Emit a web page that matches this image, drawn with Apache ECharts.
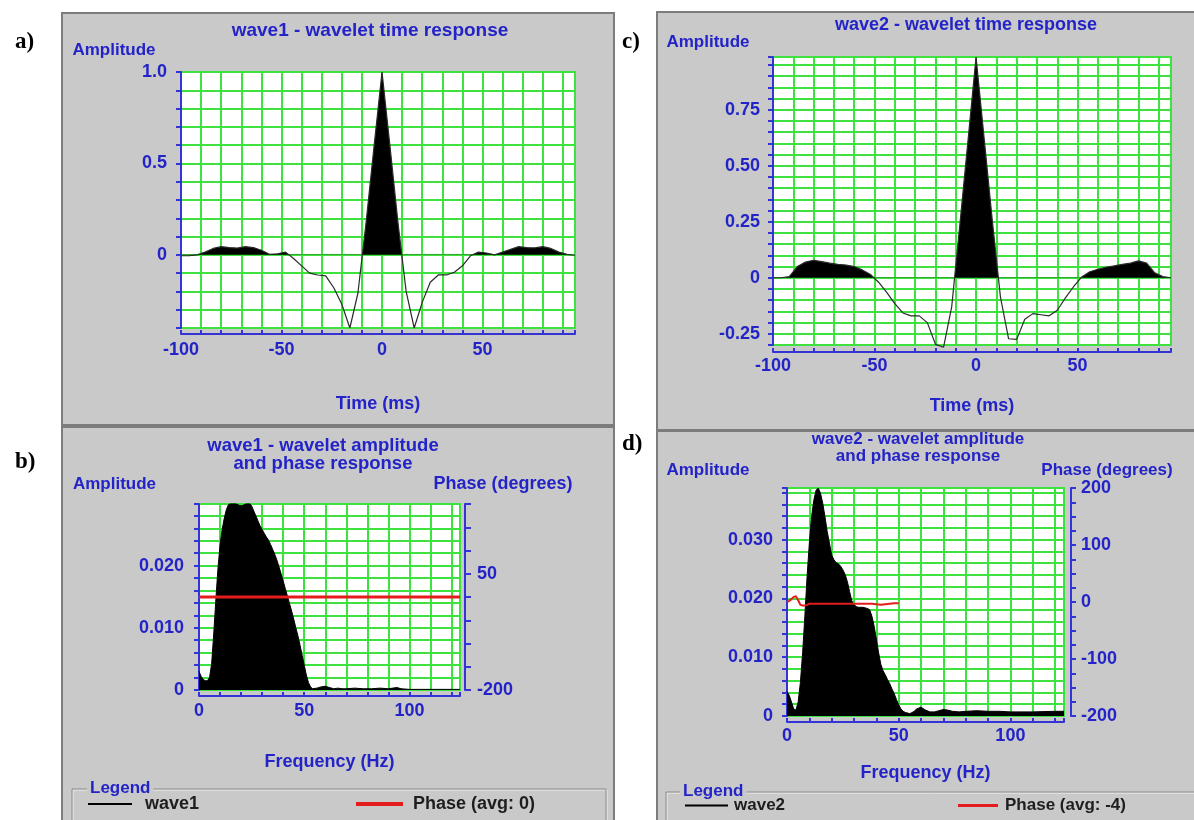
<!DOCTYPE html>
<html>
<head>
<meta charset="utf-8">
<title>wavelet responses</title>
<script src="https://cdn.jsdelivr.net/npm/echarts@6/dist/echarts.min.js"></script>
<style>
html, body { margin: 0; padding: 0; background: #fff; }
#main { width: 1194px; height: 820px; }
</style>
</head>
<body>
<div id="main"></div>
<script>
// time axis (ms), 4 ms sampling
var timeMs = [-100, -96, -92, -88, -84, -80, -76, -72, -68, -64, -60, -56, -52, -48, -44, -40, -36, -32, -28, -24,
    -20, -16, -12, -8, -4, 0, 4, 8, 12, 16, 20, 24, 28, 32, 36, 40, 44, 48, 52, 56,
    60, 64, 68, 72, 76, 80, 84, 88, 92, 96];

// wave1 - time response
var wave1Amp = [-0.005, -0.005, 0.0, 0.015, 0.035, 0.045, 0.04, 0.037, 0.045, 0.04, 0.025, 0.003, 0.006, 0.015, -0.02, -0.06, -0.10, -0.11, -0.115, -0.18,
    -0.27, -0.40, -0.21, 0.17, 0.59, 1.0, 0.59, 0.17, -0.2, -0.40, -0.26, -0.15, -0.11, -0.11, -0.095, -0.06, -0.005, 0.015, 0.01, 0.0,
    0.015, 0.03, 0.045, 0.04, 0.038, 0.045, 0.035, 0.015, 0.003, -0.002];

// wave2 - time response
var wave2Amp = [0, 0, 0.005, 0.05, 0.07, 0.078, 0.072, 0.065, 0.06, 0.057, 0.05, 0.035, 0.015, -0.02, -0.065, -0.115, -0.157, -0.17, -0.17, -0.2,
    -0.297, -0.31, -0.13, 0.235, 0.61, 0.985, 0.62, 0.255, -0.085, -0.272, -0.275, -0.185, -0.16, -0.165, -0.17, -0.145, -0.09, -0.04, 0.003, 0.027,
    0.038, 0.047, 0.053, 0.06, 0.065, 0.075, 0.065, 0.022, 0.005, 0];

// wave1 - amplitude spectrum
var freq1 = [0, 1, 2, 3, 4, 5, 6, 7, 8, 9, 10, 11, 12, 13, 14, 15, 16, 17, 18, 19,
    20, 21, 22, 23, 24, 25, 26, 27, 28, 29, 30, 31, 32, 33, 34, 35, 36, 37, 38, 39,
    40, 41, 42, 43, 44, 45, 46, 47, 48, 49, 50, 51, 52, 53, 54, 56, 58, 60, 62, 64,
    66, 68, 70, 74, 78, 82, 86, 90, 94, 96, 100, 106, 112, 118, 124];
var amp1 = [0.0030, 0.0022, 0.0017, 0.0015, 0.0015, 0.0020, 0.0042, 0.0090, 0.0145, 0.0195, 0.0233, 0.0258, 0.0276, 0.0290, 0.0298, 0.0300, 0.0300, 0.0300, 0.0299, 0.0297,
    0.0296, 0.0297, 0.0299, 0.0300, 0.0300, 0.0296, 0.0288, 0.0280, 0.0272, 0.0264, 0.0258, 0.0252, 0.0246, 0.0241, 0.0234, 0.0226, 0.0218, 0.0209, 0.0198, 0.0187,
    0.0175, 0.0163, 0.0151, 0.0139, 0.0127, 0.0114, 0.0100, 0.0087, 0.0072, 0.0056, 0.0040, 0.0024, 0.0012, 0.0005, 0.0002, 0.0003, 0.0005, 0.0006, 0.0004, 0.0002,
    0.0003, 0.0002, 0.0002, 0.0003, 0.0002, 0.0002, 0.0003, 0.0002, 0.0004, 0.0002, 0.0001, 0.0001, 0.0001, 0.0001, 0.0001];
var phaseFreq1 = [0, 124];
var phase1 = [0, 0];

// wave2 - amplitude spectrum
var freq2 = [0, 1, 2, 3, 4, 5, 6, 7, 8, 9, 10, 11, 12, 13, 14, 15, 16, 17, 18, 19,
    20, 21, 22, 23, 24, 25, 26, 27, 28, 29, 30, 31, 32, 33, 34, 35, 36, 37, 38, 39,
    40, 41, 42, 43, 44, 45, 46, 47, 48, 49, 50, 51, 52, 53, 54, 55, 56, 57, 58, 60,
    62, 64, 66, 68, 70, 72, 74, 77, 80, 85, 90, 95, 100, 110, 120, 124];
var amp2 = [0.0042, 0.0035, 0.0024, 0.0012, 0.0010, 0.0024, 0.0057, 0.0108, 0.0170, 0.0238, 0.0294, 0.0339, 0.0367, 0.0384, 0.0388, 0.0379, 0.0362, 0.0339, 0.0314, 0.0294,
    0.0274, 0.0266, 0.0261, 0.0259, 0.0255, 0.0249, 0.0241, 0.0229, 0.0212, 0.0196, 0.0190, 0.0186, 0.0185, 0.0185, 0.0185, 0.0184, 0.0183, 0.0181, 0.0170, 0.0153,
    0.0131, 0.0108, 0.0088, 0.0077, 0.0070, 0.0062, 0.0055, 0.0046, 0.0038, 0.0028, 0.0019, 0.0012, 0.0008, 0.0006, 0.0005, 0.0004, 0.0006, 0.0008, 0.0012, 0.0015,
    0.0010, 0.0007, 0.0007, 0.0009, 0.0011, 0.0010, 0.0008, 0.0007, 0.0008, 0.0009, 0.0008, 0.0008, 0.0007, 0.0007, 0.0008, 0.0008];
var phaseFreq2 = [0, 1, 2, 3, 4, 5, 6, 7, 8, 9, 10, 15, 20, 25, 30, 35, 38, 40, 42, 44, 46, 48, 50];
var phase2 = [0, 2, 5, 9, 10, 3, -5, -6, -6, -5, -3, -3, -3, -3, -3, -3, -3, -4, -5, -4, -3, -2, -2];

// tick labels shown on each axis
var timeLabels = [-100, -50, 0, 50];
var freqLabels = [0, 50, 100];
var ampLabels1 = [0, 0.5, 1.0];
var ampLabels2 = [-0.25, 0, 0.25, 0.5, 0.75];
var specLabels1 = [0, 0.01, 0.02];
var specLabels2 = [0, 0.01, 0.02, 0.03];
var phaseLabels1 = [-200, 50];
var phaseLabels2 = [-200, -100, 0, 100, 200];

var BLUE = '#2323c8';
var AXIS_BLUE = '#3434d6';
var GREEN = '#3ee23e';
var RED = '#e41c1c';
var PANEL = '#c9c9c9';
var FONT = '"Liberation Sans", Arial, sans-serif';
var LETTER_FONT = 'bold 23px "Liberation Serif", serif';

var myChart = echarts.init(document.getElementById('main'));

function pairs(xs, ys) {
    var out = [];
    for (var i = 0; i < xs.length; i++) {
        out.push([xs[i], ys[i]]);
    }
    return out;
}

// label formatter: only the listed values get a label
function labelList(list, digits) {
    return function (v) {
        for (var i = 0; i < list.length; i++) {
            if (Math.abs(v - list[i]) < 1e-7) {
                return list[i] === 0 ? '0' : list[i].toFixed(digits);
            }
        }
        return '';
    };
}

function textStyle(size) {
    return { color: BLUE, fontFamily: FONT, fontWeight: 'bold', fontSize: size };
}

/**
 * value axis in the style of the old plotting tool
 */
function axis(o) {
    return {
        type: 'value',
        gridIndex: o.grid,
        min: o.min,
        max: o.max,
        interval: o.interval,
        offset: o.offset || 0,
        position: o.position,
        name: o.name,
        nameLocation: o.nameLocation,
        nameGap: o.nameGap,
        nameMoveOverlap: false,
        nameTextStyle: echarts.util.extend(textStyle(o.nameSize || 18), o.nameExtra || {}),
        axisLine: { show: true, onZero: false, lineStyle: { color: AXIS_BLUE, width: 2 } },
        axisTick: { show: true, inside: !!o.inside, length: o.tickLen || 5, lineStyle: { color: AXIS_BLUE, width: 2 } },
        axisLabel: {
            color: BLUE, fontFamily: FONT, fontWeight: 'bold', fontSize: 18,
            margin: o.labelMargin, formatter: o.formatter,
            showMinLabel: true, showMaxLabel: true, hideOverlap: false
        },
        splitLine: { show: !o.noGrid, lineStyle: { color: GREEN, width: 2 } }
    };
}

// black only above zero (positive lobes of the wavelet)
function positiveFill(seriesIndex) {
    return {
        type: 'piecewise', show: false, seriesIndex: seriesIndex, dimension: 1,
        pieces: [
            { lt: 0, color: 'rgba(0,0,0,0)' },
            { gte: 0, lte: 2, color: '#000' },
            { gt: 2, color: '#000' }
        ]
    };
}

var gridBase = { show: true, backgroundColor: '#fff', borderColor: GREEN, borderWidth: 2, outerBoundsMode: 'none', containLabel: false };

var option = {
    animation: false,
    backgroundColor: '#fff',
    title: [
        { text: 'wave1 - wavelet time response', left: 370, top: 21, textAlign: 'center', padding: 0, textStyle: textStyle(19) },
        { text: 'wave1 - wavelet amplitude\nand phase response', left: 323, top: 437, textAlign: 'center', padding: 0,
            textStyle: echarts.util.extend(textStyle(18.5), { lineHeight: 18 }) },
        { text: 'wave2 - wavelet time response', left: 966, top: 16, textAlign: 'center', padding: 0, textStyle: textStyle(18) },
        { text: 'wave2 - wavelet amplitude\nand phase response', left: 918, top: 431, textAlign: 'center', padding: 0,
            textStyle: echarts.util.extend(textStyle(17), { lineHeight: 17 }) }
    ],
    grid: [
        echarts.util.extend({ left: 181, top: 72, width: 394, height: 256 }, gridBase),
        echarts.util.extend({ left: 199, top: 504, width: 261, height: 186 }, gridBase),
        echarts.util.extend({ left: 773, top: 57, width: 398, height: 288 }, gridBase),
        echarts.util.extend({ left: 787, top: 488, width: 277, height: 228 }, gridBase)
    ],
    xAxis: [
        axis({ grid: 0, min: -100, max: 96, interval: 10, inside: true, tickLen: 4, offset: 6, labelMargin: 7,
            name: 'Time (ms)', nameLocation: 'middle', nameGap: 61, formatter: labelList(timeLabels, 0) }),
        axis({ grid: 1, min: 0, max: 124, interval: 10, inside: true, tickLen: 4, offset: 6, labelMargin: 6,
            name: 'Frequency (Hz)', nameLocation: 'middle', nameGap: 57, formatter: labelList(freqLabels, 0) }),
        axis({ grid: 2, min: -100, max: 96, interval: 10, inside: true, tickLen: 4, offset: 7, labelMargin: 5,
            name: 'Time (ms)', nameLocation: 'middle', nameGap: 45, formatter: labelList(timeLabels, 0) }),
        axis({ grid: 3, min: 0, max: 124, interval: 10, inside: true, tickLen: 4, offset: 6, labelMargin: 5,
            name: 'Frequency (Hz)', nameLocation: 'middle', nameGap: 42, formatter: labelList(freqLabels, 0) })
    ],
    yAxis: [
        axis({ grid: 0, min: -0.4, max: 1, interval: 0.1, labelMargin: 14,
            name: 'Amplitude', nameLocation: 'end', nameGap: 13, nameSize: 17,
            nameExtra: { align: 'center', padding: [0, 134, 0, 0] }, formatter: labelList(ampLabels1, 1) }),
        axis({ grid: 1, min: 0, max: 0.0299, interval: 0.002, labelMargin: 15,
            name: 'Amplitude', nameLocation: 'end', nameGap: 11, nameSize: 17,
            nameExtra: { align: 'center', padding: [0, 169, 0, 0] }, formatter: labelList(specLabels1, 3) }),
        axis({ grid: 1, position: 'right', offset: 5, min: -200, max: 200, interval: 50, tickLen: 6, labelMargin: 12, noGrid: true,
            name: 'Phase (degrees)', nameLocation: 'end', nameGap: 11, nameSize: 18,
            nameExtra: { align: 'center', padding: [0, 0, 0, 76] }, formatter: labelList(phaseLabels1, 0) }),
        axis({ grid: 2, min: -0.3, max: 0.985, interval: 0.05, labelMargin: 13,
            name: 'Amplitude', nameLocation: 'end', nameGap: 6, nameSize: 17,
            nameExtra: { align: 'center', padding: [0, 130, 0, 0] }, formatter: labelList(ampLabels2, 2) }),
        axis({ grid: 3, min: 0, max: 0.0388, interval: 0.002, labelMargin: 14,
            name: 'Amplitude', nameLocation: 'end', nameGap: 9, nameSize: 17,
            nameExtra: { align: 'center', padding: [0, 158, 0, 0] }, formatter: labelList(specLabels2, 3) }),
        axis({ grid: 3, position: 'right', offset: 7, min: -200, max: 200, interval: 25, tickLen: 5,
            labelMargin: 10, noGrid: true,
            name: 'Phase (degrees)', nameLocation: 'end', nameGap: 9, nameSize: 17,
            nameExtra: { align: 'center', padding: [0, 0, 0, 72] }, formatter: labelList(phaseLabels2, 0) })
    ],
    visualMap: [positiveFill(0), positiveFill(4)],
    legend: [
        { data: ['wave1'], left: 88, top: 795, padding: 0, icon: 'rect', itemWidth: 44, itemHeight: 2, selectedMode: false,
            textStyle: { color: '#1e1e1e', fontFamily: FONT, fontWeight: 'bold', fontSize: 18, padding: [0, 0, 0, 8] } },
        { data: ['Phase (avg: 0)'], left: 356, top: 795, padding: 0, icon: 'rect', itemWidth: 47, itemHeight: 4, selectedMode: false,
            textStyle: { color: '#1e1e1e', fontFamily: FONT, fontWeight: 'bold', fontSize: 18, padding: [0, 0, 0, 5] } },
        { data: ['wave2'], left: 685, top: 797, padding: 0, icon: 'rect', itemWidth: 43, itemHeight: 2, selectedMode: false,
            textStyle: { color: '#1e1e1e', fontFamily: FONT, fontWeight: 'bold', fontSize: 17, padding: [0, 0, 0, 1] } },
        { data: ['Phase (avg: -4)'], left: 958, top: 797, padding: 0, icon: 'rect', itemWidth: 40, itemHeight: 3, selectedMode: false,
            textStyle: { color: '#1e1e1e', fontFamily: FONT, fontWeight: 'bold', fontSize: 17, padding: [0, 0, 0, 2] } }
    ],
    series: [
        // a) wave1 time response: fill of the positive lobes, then the trace
        { type: 'line', name: 'wave1 lobes', xAxisIndex: 0, yAxisIndex: 0, data: pairs(timeMs, wave1Amp),
            symbol: 'none', silent: true, lineStyle: { opacity: 0 }, areaStyle: { opacity: 1 }, z: 2 },
        { type: 'line', name: 'wave1 trace', xAxisIndex: 0, yAxisIndex: 0, data: pairs(timeMs, wave1Amp),
            symbol: 'none', lineStyle: { color: '#2a2a2a', width: 1.2 }, itemStyle: { color: '#2a2a2a' }, z: 3 },
        // b) wave1 amplitude and phase
        { type: 'line', name: 'wave1', xAxisIndex: 1, yAxisIndex: 1, data: pairs(freq1, amp1),
            symbol: 'none', lineStyle: { color: '#000', width: 1 }, itemStyle: { color: '#000' },
            areaStyle: { color: '#000', opacity: 1 }, z: 2 },
        { type: 'line', name: 'Phase (avg: 0)', xAxisIndex: 1, yAxisIndex: 2, data: pairs(phaseFreq1, phase1),
            symbol: 'none', lineStyle: { color: RED, width: 3 }, itemStyle: { color: RED }, z: 4 },
        // c) wave2 time response (trough dips just below the last grid line)
        { type: 'line', name: 'wave2 lobes', xAxisIndex: 2, yAxisIndex: 3, data: pairs(timeMs, wave2Amp),
            symbol: 'none', silent: true, lineStyle: { opacity: 0 }, areaStyle: { opacity: 1 }, z: 2 },
        { type: 'line', name: 'wave2 trace', xAxisIndex: 2, yAxisIndex: 3, data: pairs(timeMs, wave2Amp), clip: false,
            symbol: 'none', lineStyle: { color: '#2a2a2a', width: 1.2 }, itemStyle: { color: '#2a2a2a' }, z: 3 },
        // d) wave2 amplitude and phase
        { type: 'line', name: 'wave2', xAxisIndex: 3, yAxisIndex: 4, data: pairs(freq2, amp2),
            symbol: 'none', lineStyle: { color: '#000', width: 1 }, itemStyle: { color: '#000' },
            areaStyle: { color: '#000', opacity: 1 }, z: 2 },
        { type: 'line', name: 'Phase (avg: -4)', xAxisIndex: 3, yAxisIndex: 5, data: pairs(phaseFreq2, phase2),
            symbol: 'none', lineStyle: { color: RED, width: 2 }, itemStyle: { color: RED }, z: 4 }
    ],
    graphic: [
        // panel backgrounds
        { type: 'rect', z: -10, shape: { x: 62, y: 13, width: 552, height: 412 }, style: { fill: PANEL, stroke: '#7c7c7c', lineWidth: 2 } },
        { type: 'rect', z: -10, shape: { x: 62, y: 427, width: 552, height: 400 }, style: { fill: PANEL, stroke: '#7c7c7c', lineWidth: 2 } },
        { type: 'rect', z: -10, shape: { x: 657, y: 12, width: 545, height: 418 }, style: { fill: PANEL, stroke: '#7c7c7c', lineWidth: 2 } },
        { type: 'rect', z: -10, shape: { x: 657, y: 431, width: 545, height: 400 }, style: { fill: PANEL, stroke: '#7c7c7c', lineWidth: 2 } },
        // legend frames
        { type: 'rect', z: -5, shape: { x: 73, y: 790, width: 534, height: 60 }, style: { fill: null, stroke: '#f2f2f2', lineWidth: 1 } },
        { type: 'rect', z: -4, shape: { x: 72, y: 789, width: 534, height: 60 }, style: { fill: null, stroke: '#8a8a8a', lineWidth: 1 } },
        { type: 'rect', z: -5, shape: { x: 667, y: 793, width: 540, height: 60 }, style: { fill: null, stroke: '#f2f2f2', lineWidth: 1 } },
        { type: 'rect', z: -4, shape: { x: 666, y: 792, width: 540, height: 60 }, style: { fill: null, stroke: '#8a8a8a', lineWidth: 1 } },
        { type: 'text', z: 5, x: 87, y: 788, style: { text: 'Legend', fill: BLUE, font: 'bold 17px ' + FONT, verticalAlign: 'middle', backgroundColor: PANEL, padding: [0, 3] } },
        { type: 'text', z: 5, x: 680, y: 791, style: { text: 'Legend', fill: BLUE, font: 'bold 17px ' + FONT, verticalAlign: 'middle', backgroundColor: PANEL, padding: [0, 3] } },
        // panel letters
        { type: 'text', x: 15, y: 42, style: { text: 'a)', fill: '#000', font: LETTER_FONT, verticalAlign: 'middle' } },
        { type: 'text', x: 15, y: 462, style: { text: 'b)', fill: '#000', font: LETTER_FONT, verticalAlign: 'middle' } },
        { type: 'text', x: 622, y: 42, style: { text: 'c)', fill: '#000', font: LETTER_FONT, verticalAlign: 'middle' } },
        { type: 'text', x: 622, y: 444, style: { text: 'd)', fill: '#000', font: LETTER_FONT, verticalAlign: 'middle' } }
    ]
};

myChart.setOption(option);
</script>
</body>
</html>
